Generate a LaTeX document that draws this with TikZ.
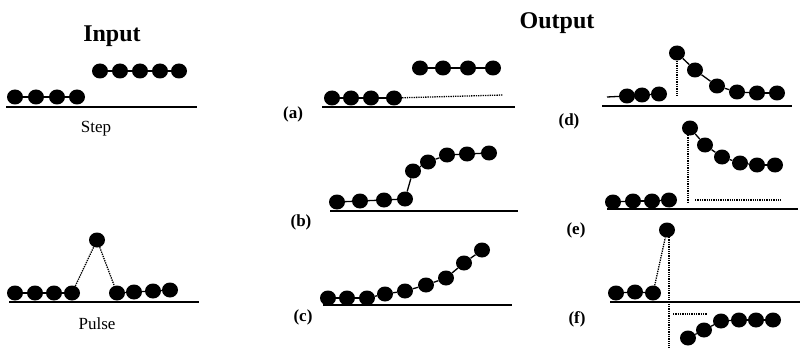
\documentclass[tikz,border=0pt]{standalone}
\usepackage{fontspec}
\setmainfont{Liberation Serif}
\usetikzlibrary{shapes.geometric}
\begin{document}
\begin{tikzpicture}[x=1pt,y=-1pt,
 dot/.style={ellipse,fill=black,inner sep=0pt,minimum width=16pt,minimum height=15pt},
 link/.style={line width=1.3pt},
 dotline/.style={line width=1.3pt,densely dotted},
 base/.style={line width=2.2pt},
 ttl/.style={font=\fontsize{24}{24}\selectfont\bfseries},
 captext/.style={font=\fontsize{17}{17}\selectfont},
 lab/.style={font=\fontsize{17}{17}\selectfont\bfseries}]
\useasboundingbox (0,0) rectangle (802,350);

% titles and labels
\node[ttl] (tin) at (112,36) {Input};
\node[ttl] (tout) at (557,23) {Output};
\node[captext] (tstep) at (96,129) {Step};
\node[captext] (tpulse) at (97,324) {Pulse};
\node[lab] (la) at (293,114) {(a)};
\node[lab] (lb) at (301,222) {(b)};
\node[lab] (lc) at (303,317) {(c)};
\node[lab] (ld) at (569,121) {(d)};
\node[lab] (le) at (576,230) {(e)};
\node[lab] (lf) at (577,319) {(f)};

% baselines
\draw[base] (6,107) -- (197,107);
\draw[base] (9,302) -- (199,302);
\draw[base] (322,107) -- (515,107);
\draw[base] (330,211) -- (518,211);
\draw[base] (323,305) -- (512,305);
\draw[base] (602,106) -- (792,106);
\draw[base] (607,209) -- (798,209);
\draw[base] (610,302) -- (800,302);

% Input: step
\foreach \x [count=\i] in {15,36,57,77} \node[dot] (sl\i) at (\x,97) {};
\foreach \x [count=\i] in {100,120,140,160,179} \node[dot] (su\i) at (\x,71) {};
\foreach \i/\j in {1/2,2/3,3/4} \draw[link] (sl\i) -- (sl\j);
\foreach \i/\j in {1/2,2/3,3/4,4/5} \draw[link] (su\i) -- (su\j);

% Input: pulse
\foreach \x [count=\i] in {15,35,54,72} \node[dot] (pl\i) at (\x,293) {};
\node[dot] (pk) at (97,240) {};
\foreach \x/\y [count=\i] in {117/293,134/292,153/291,170/290} \node[dot] (pr\i) at (\x,\y) {};
\foreach \i/\j in {1/2,2/3,3/4} \draw[link] (pl\i) -- (pl\j);
\foreach \i/\j in {1/2,2/3,3/4} \draw[link] (pr\i) -- (pr\j);
\draw[dotline] (pl4) -- (pk);
\draw[dotline] (pk) -- (pr1);

% (a)
\foreach \x [count=\i] in {332,351,371,394} \node[dot] (al\i) at (\x,98) {};
\foreach \x [count=\i] in {420,443,468,493} \node[dot] (au\i) at (\x,68) {};
\foreach \i/\j in {1/2,2/3,3/4} \draw[link] (al\i) -- (al\j);
\foreach \i/\j in {1/2,2/3,3/4} \draw[link] (au\i) -- (au\j);
\coordinate (aend) at (503,95);
\draw[dotline] (al4) -- (aend);

% (b)
\foreach \x/\y [count=\i] in {337/202,360/201,384/200,405/199,413/171,428/162,447/155,467/154,489/153}
  \node[dot] (b\i) at (\x,\y) {};
\foreach \i/\j in {1/2,2/3,3/4,4/5,5/6,6/7,7/8,8/9} \draw[link] (b\i) -- (b\j);

% (c)
\foreach \x/\y [count=\i] in {328/298,347/298,367/298,385/294,405/291,426/285,446/278,464/263,482/250}
  \node[dot] (c\i) at (\x,\y) {};
\foreach \i/\j in {1/2,2/3,3/4,4/5,5/6,6/7,7/8,8/9} \draw[link] (c\i) -- (c\j);

% (d)
\coordinate (dstart) at (607,97);
\foreach \x/\y [count=\i] in {627/96,642/95,659/94} \node[dot] (dl\i) at (\x,\y) {};
\draw[link] (dstart) -- (dl1);
\foreach \i/\j in {1/2,2/3} \draw[link] (dl\i) -- (dl\j);
\node[dot] (dk) at (677,53) {};
\coordinate (dv) at (677,97);
\draw[dotline] (dk) -- (dv);
\foreach \x/\y [count=\i] in {695/70,717/86,737/92,757/93,777/93} \node[dot] (dr\i) at (\x,\y) {};
\draw[link] (dk) -- (dr1);
\foreach \i/\j in {1/2,2/3,3/4,4/5} \draw[link] (dr\i) -- (dr\j);

% (e)
\foreach \x/\y [count=\i] in {613/202,633/201,652/201,669/200} \node[dot] (el\i) at (\x,\y) {};
\foreach \i/\j in {1/2,2/3,3/4} \draw[link] (el\i) -- (el\j);
\node[dot] (ek) at (690,128) {};
\coordinate (et) at (688,135);
\coordinate (ev) at (688,202);
\draw[dotline] (et) -- (ev);
\foreach \x/\y [count=\i] in {705/145,722/157,740/163,757/165,775/165} \node[dot] (er\i) at (\x,\y) {};
\draw[link] (ek) -- (er1);
\foreach \i/\j in {1/2,2/3,3/4,4/5} \draw[link] (er\i) -- (er\j);
\coordinate (eh1) at (695,200);
\coordinate (eh2) at (782,200);
\draw[dotline] (eh1) -- (eh2);

% (f)
\foreach \x/\y [count=\i] in {616/293,635/292,653/293} \node[dot] (fl\i) at (\x,\y) {};
\foreach \i/\j in {1/2,2/3} \draw[link] (fl\i) -- (fl\j);
\node[dot] (fk) at (667,230) {};
\draw[dotline] (fl3) -- (fk);
\coordinate (ft) at (669,237);
\coordinate (fv) at (669,348);
\draw[dotline] (ft) -- (fv);
\coordinate (fh1) at (673,314);
\coordinate (fh2) at (707,314);
\draw[dotline] (fh1) -- (fh2);
\foreach \x/\y [count=\i] in {688/338,704/330,721/321,739/320,756/320,773/320} \node[dot] (fr\i) at (\x,\y) {};
\foreach \i/\j in {1/2,2/3,3/4,4/5,5/6} \draw[link] (fr\i) -- (fr\j);
\end{tikzpicture}
\end{document}
